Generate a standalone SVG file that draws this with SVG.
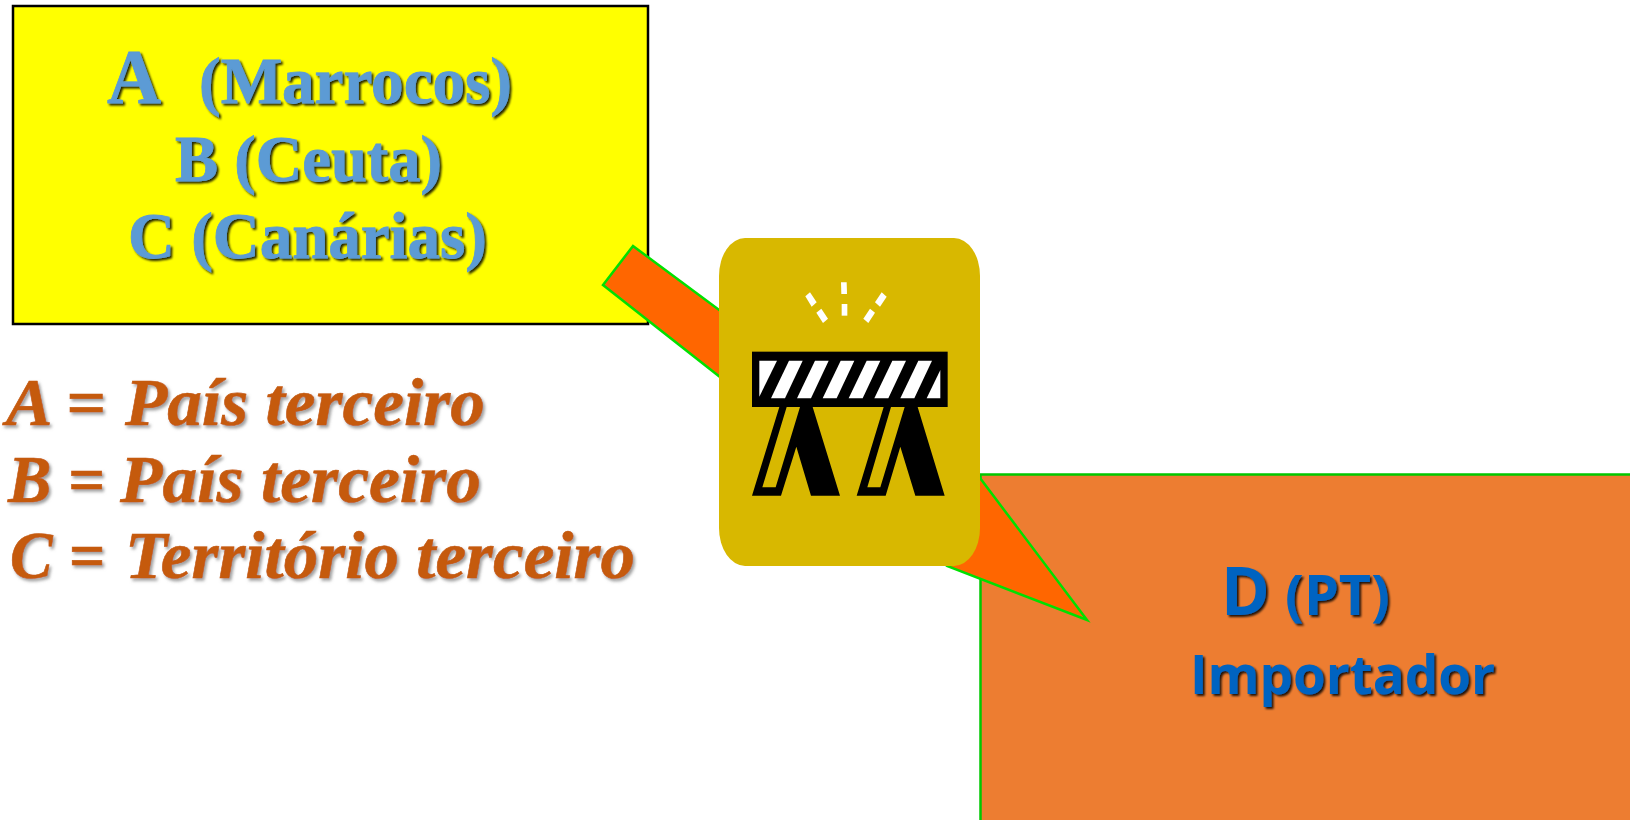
<svg xmlns="http://www.w3.org/2000/svg" width="1630" height="820" viewBox="0 0 1630 820">
<defs>
<filter id="sd" x="-10%" y="-20%" width="120%" height="140%"><feDropShadow dx="2" dy="2" stdDeviation="1.2" flood-color="#000" flood-opacity=".85"/></filter>
<filter id="sg" x="-10%" y="-20%" width="120%" height="140%"><feDropShadow dx="2" dy="2.5" stdDeviation="1.8" flood-color="#777" flood-opacity=".7"/></filter>
</defs>
<style>
.s{font-family:"Liberation Serif","Times New Roman",serif;font-weight:700}
.b{fill:#5B9BD5;stroke:#5B9BD5;stroke-width:.8;filter:url(#sd)}
.l{fill:#C55A11;stroke:#C55A11;stroke-width:.6;font-style:italic;font-size:68px;filter:url(#sg)}
.n{font-family:"Open Sans","Noto Sans",sans-serif;font-weight:700;fill:#0563C1;filter:url(#sd)}
.ar{fill:#FF6600;stroke:#00E000;stroke-width:2.5}
</style>
<g id="node-a">
<rect x="13" y="6" width="635" height="318" fill="#FFFF00" stroke="#000" stroke-width="2.5"/>
<text class="s b" x="107" y="103" font-size="78" textLength="54" lengthAdjust="spacingAndGlyphs">A</text>
<text class="s b" x="199" y="103" font-size="65" textLength="313" lengthAdjust="spacingAndGlyphs">(Marrocos)</text>
<text class="s b" x="175" y="181" font-size="65" textLength="267" lengthAdjust="spacingAndGlyphs">B (Ceuta)</text>
<text class="s b" x="128" y="258" font-size="65" textLength="359" lengthAdjust="spacingAndGlyphs">C (Canárias)</text>
</g>
<g id="legend">
<text class="s l" y="425"><tspan x="6" textLength="117" lengthAdjust="spacingAndGlyphs">A = </tspan><tspan x="125" textLength="360" lengthAdjust="spacingAndGlyphs">País terceiro</tspan></text>
<text class="s l" y="502"><tspan x="8" textLength="113" lengthAdjust="spacingAndGlyphs">B = </tspan><tspan x="120" textLength="361" lengthAdjust="spacingAndGlyphs">País terceiro</tspan></text>
<text class="s l" y="578"><tspan x="10" textLength="111" lengthAdjust="spacingAndGlyphs">C = </tspan><tspan x="125" textLength="510" lengthAdjust="spacingAndGlyphs">Território terceiro</tspan></text>
</g>
<g id="node-d">
<rect x="980.5" y="474.500" width="680" height="400" fill="#ED7D31" stroke="#00C800" stroke-width="2.500"/>
<text class="n" x="1221" y="615" font-size="66">D</text>
<text class="n" x="1285" y="615" font-size="55" textLength="105" lengthAdjust="spacingAndGlyphs">(PT)</text>
<text class="n" x="1190" y="694" font-size="54" textLength="305" lengthAdjust="spacingAndGlyphs">Importador</text>
</g>
<g id="connectors">
<polygon class="ar" points="633,246 850,407 980,478 1087,620 947,566 800,440 603,285"/>
</g>
<g id="node-barrier">
<rect x="719" y="238" width="261" height="328" rx="26" ry="38" fill="#D8B800"/>
<g transform="translate(590 220) scale(.33333)">
<rect x="486" y="395" width="587" height="166" fill="#000"/>
<g fill="#fff">
<polygon points="508,422 561,422 508,530"/>
<polygon points="597,422 638,422 585,535 543,535"/>
<polygon points="675,422 716,422 663,535 621,535"/>
<polygon points="752,422 793,422 740,535 698,535"/>
<polygon points="830,422 871,422 818,535 776,535"/>
<polygon points="907,422 948,422 895,535 853,535"/>
<polygon points="985,422 1026,422 973,535 931,535"/>
<polygon points="1051,450 1051,535 1010,535"/>
<polygon points="753,187 770,187 771,222 754,222"/>
<polygon points="755,252 772,252 772,287 755,287"/>
<polygon points="646,229 660,217 680,247 665,260"/>
<polygon points="679,278 694,266 714,296 699,309"/>
<polygon points="855,247 875,217 890,230 870,260"/>
<polygon points="820,296 840,266 855,278 835,309"/>
</g>
<polygon points="568,561 486,827 573,827 619,680 663,827 750,827 668,561 630,561 557,802 517,802 590,561" fill="#000"/>
<polygon points="881,561 800,827 887,827 931,680 976,827 1064,827 983,561 944,561 871,802 832,802 903,561" fill="#000"/>
</g>
</g>
</svg>
